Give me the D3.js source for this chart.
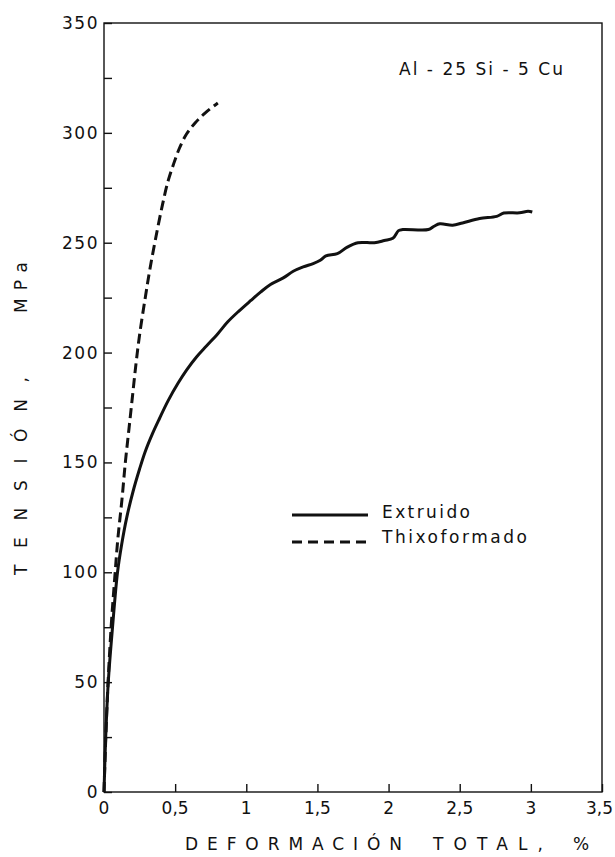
<!DOCTYPE html>
<html>
<head>
<meta charset="utf-8">
<script src="https://cdn.jsdelivr.net/npm/d3@7"></script>
<style>
    html, body { margin: 0; padding: 0; background: #fff; }
    svg { display: block; }
    text { font-family: "DejaVu Sans", "Liberation Sans", sans-serif; fill: #111; }
</style>
</head>
<body>
<svg id="chart"></svg>
<script>
const WIDTH = 615;
const HEIGHT = 857;

// strain (%) / stress (MPa)
const extruidoStrain = [0, 0.012, 0.03, 0.06, 0.095, 0.125, 0.16, 0.205, 0.25, 0.29, 0.34, 0.39, 0.45, 0.52, 0.58, 0.65, 0.72, 0.8, 0.87, 0.95, 1.03, 1.1, 1.17, 1.26, 1.33, 1.4, 1.47, 1.52, 1.56, 1.64, 1.71, 1.785, 1.9, 1.97, 2.03, 2.07, 2.1, 2.28, 2.32, 2.36, 2.45, 2.52, 2.64, 2.76, 2.81, 2.92, 2.98, 3.01];
const extruidoStress = [0, 25, 50, 75, 100, 113, 125, 137, 147, 155, 163, 170, 178, 186, 192, 198, 203, 208.6, 214, 219, 223.6, 227.5, 231, 234, 237, 239, 240.5, 242, 244, 245, 248, 250, 250, 251, 252, 255.5, 256, 256, 257.5, 258.6, 258, 259, 261, 262, 263.5, 263.6, 264.3, 264];

const thixoStrain = [0, 0.01, 0.025, 0.05, 0.075, 0.097, 0.126, 0.15, 0.175, 0.2, 0.225, 0.25, 0.29, 0.32, 0.36, 0.41, 0.45, 0.49, 0.53, 0.58, 0.64, 0.71, 0.8];
const thixoStress = [0, 20, 45, 75, 97, 115, 133, 150, 165, 180, 195, 208, 225, 237, 251, 267, 278, 286, 293, 299.5, 304.5, 309, 313.6];

const xTicks = [0, 0.5, 1, 1.5, 2, 2.5, 3, 3.5];
const yTicks = [0, 50, 100, 150, 200, 250, 300, 350];
const yMinorTicks = [25, 75, 125, 175, 225, 275, 325];

const seriesNames = ["Extruido", "Thixoformado"];
const alloyLabel = "Al - 25 Si - 5 Cu";

const svg = d3.select("#chart").attr("width", WIDTH).attr("height", HEIGHT);

const plot = { left: 104, right: 602, top: 23, bottom: 792 };

const x = d3.scaleLinear().domain([0, 3.5]).range([plot.left, plot.right]);
const y = d3.scaleLinear().domain([0, 350]).range([plot.bottom, plot.top]);

// frame
svg.append("rect")
    .attr("x", plot.left)
    .attr("y", plot.top)
    .attr("width", plot.right - plot.left)
    .attr("height", plot.bottom - plot.top)
    .attr("fill", "none")
    .attr("stroke", "#111")
    .attr("stroke-width", 1.4);

// ticks point inward
const xAxis = svg.append("g")
    .attr("transform", `translate(0, ${plot.bottom})`)
    .call(d3.axisTop(x).tickValues(xTicks).tickSize(8).tickFormat(""));
xAxis.select(".domain").remove();
xAxis.selectAll("line").attr("stroke", "#111").attr("stroke-width", 1.4);

const yAxis = svg.append("g")
    .attr("transform", `translate(${plot.left}, 0)`)
    .call(d3.axisRight(y).tickValues(yTicks.concat(yMinorTicks)).tickSize(8).tickFormat(""));
yAxis.select(".domain").remove();
yAxis.selectAll("line").attr("stroke", "#111").attr("stroke-width", 1.4);

// tick labels
const lastX = xTicks[xTicks.length - 1];
svg.append("g")
    .selectAll("text")
    .data(xTicks)
    .join("text")
    .attr("x", (d) => d === lastX ? 613 : x(d))
    .attr("y", 814)
    .attr("text-anchor", (d) => d === lastX ? "end" : "middle")
    .attr("font-size", 17)
    .text((d) => String(d).replace(".", ","));

svg.append("g")
    .selectAll("text")
    .data(yTicks)
    .join("text")
    .attr("x", 99)
    .attr("y", (d) => y(d) + 6)
    .attr("text-anchor", "end")
    .attr("font-size", 17)
    .attr("letter-spacing", 1.5)
    .text((d) => d);

// axis titles
const xTitleParts = [
    { text: "DEFORMACIÓN", x: 185, len: 217 },
    { text: "TOTAL,", x: 433, len: 110 },
    { text: "%", x: 573, len: 19 }
];
svg.append("g")
    .selectAll("text")
    .data(xTitleParts)
    .join("text")
    .attr("x", (d) => d.x)
    .attr("y", 850)
    .attr("font-size", 17)
    .attr("textLength", (d) => d.len)
    .attr("lengthAdjust", "spacing")
    .text((d) => d.text);

const yTitleParts = [
    { text: "TENSIÓN,", start: 575, len: 198 },
    { text: "MPa", start: 313, len: 51 }
];
svg.append("g")
    .selectAll("text")
    .data(yTitleParts)
    .join("text")
    .attr("transform", (d) => `translate(27, ${d.start}) rotate(-90)`)
    .attr("font-size", 17)
    .attr("textLength", (d) => d.len)
    .attr("lengthAdjust", "spacing")
    .text((d) => d.text);

// curves
const line = d3.line()
    .x((d) => x(d[0]))
    .y((d) => y(d[1]))
    .curve(d3.curveCatmullRom.alpha(0.5));

const extruido = extruidoStrain.map((v, i) => [v, extruidoStress[i]]);
const thixo = thixoStrain.map((v, i) => [v, thixoStress[i]]);

svg.append("path")
    .datum(extruido)
    .attr("d", line)
    .attr("fill", "none")
    .attr("stroke", "#111")
    .attr("stroke-width", 3)
    .attr("stroke-linejoin", "round");

svg.append("path")
    .datum(thixo)
    .attr("d", line)
    .attr("fill", "none")
    .attr("stroke", "#111")
    .attr("stroke-width", 3)
    .attr("stroke-dasharray", "10,5");

// legend
const legendRows = [
    { name: seriesNames[0], lineY: 515, textY: 518, dash: null, len: 88 },
    { name: seriesNames[1], lineY: 542, textY: 543, dash: "10,6", len: 145 }
];
const legend = svg.append("g")
    .selectAll("g")
    .data(legendRows)
    .join("g");

legend.append("line")
    .attr("x1", 292)
    .attr("x2", 368)
    .attr("y1", (d) => d.lineY)
    .attr("y2", (d) => d.lineY)
    .attr("stroke", "#111")
    .attr("stroke-width", 3)
    .attr("stroke-dasharray", (d) => d.dash);

legend.append("text")
    .attr("x", 382)
    .attr("y", (d) => d.textY)
    .attr("font-size", 17)
    .attr("textLength", (d) => d.len)
    .attr("lengthAdjust", "spacing")
    .text((d) => d.name);

svg.append("text")
    .attr("x", 399)
    .attr("y", 75)
    .attr("font-size", 17)
    .attr("textLength", 164)
    .attr("lengthAdjust", "spacing")
    .text(alloyLabel);
</script>
</body>
</html>
